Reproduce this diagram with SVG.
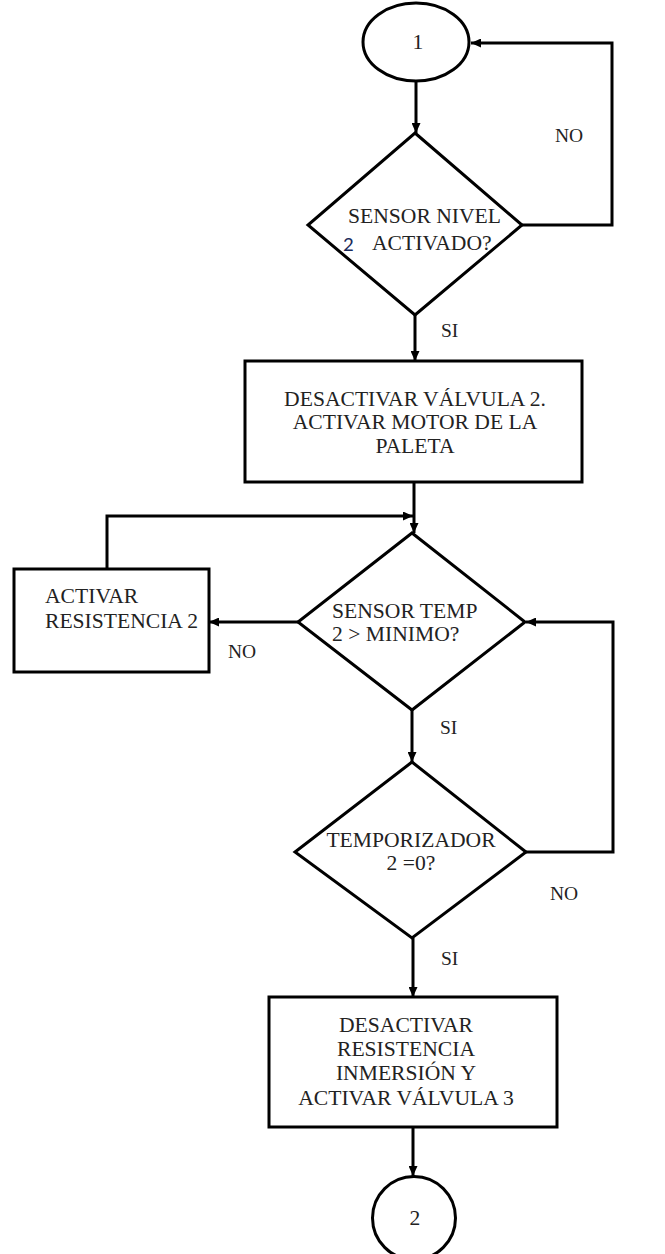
<svg xmlns="http://www.w3.org/2000/svg" width="665" height="1254" viewBox="0 0 665 1254">
  <defs>
    <style>
      .shape { fill: #fff; stroke: #000; stroke-width: 3; }
      .wire { fill: none; stroke: #000; stroke-width: 3; stroke-linejoin: miter; }
      .c { text-anchor: middle; }
    </style>
    <marker id="arrow" markerUnits="userSpaceOnUse" markerWidth="10" markerHeight="9" refX="10" refY="4.5" orient="auto">
      <path d="M0,0 L10,4.5 L0,9 z" fill="#000"/>
    </marker>
  </defs>

  <rect width="665" height="1254" fill="#fff"/>

  <g font-family="Liberation Serif, serif" fill="#222">
  <!-- connectors and branch labels -->
  <g id="connectors" font-size="19.5">
    <path class="wire" d="M416,81 L416,133" marker-end="url(#arrow)"/>
    <path class="wire" d="M522,225 L612,225 L612,43 L471,43" marker-end="url(#arrow)"/>
    <path class="wire" d="M415,315 L415,361" marker-end="url(#arrow)"/>
    <path class="wire" d="M414,482 L414,533" marker-end="url(#arrow)"/>
    <path class="wire" d="M107,569 L107,516 L413,516" marker-end="url(#arrow)"/>
    <path class="wire" d="M298,622 L209,622" marker-end="url(#arrow)"/>
    <path class="wire" d="M412,710 L412,762" marker-end="url(#arrow)"/>
    <path class="wire" d="M526,852 L613,852 L613,622 L526,622" marker-end="url(#arrow)"/>
    <path class="wire" d="M413,938 L413,997" marker-end="url(#arrow)"/>
    <path class="wire" d="M413,1127 L413,1176" marker-end="url(#arrow)"/>
    <text x="555" y="142">NO</text>
    <text x="441" y="337">SI</text>
    <text x="228" y="658">NO</text>
    <text x="440" y="734">SI</text>
    <text x="550" y="900">NO</text>
    <text x="441" y="965">SI</text>
  </g>

  <g font-size="21.6">
  <!-- start connector 1 -->
  <g id="start">
    <ellipse class="shape" cx="416" cy="42" rx="53" ry="39"/>
    <text class="c" x="418" y="49">1</text>
  </g>

  <!-- level sensor decision -->
  <g id="sensor-nivel">
    <polygon class="shape" points="415,133 522,225 415,315 308,225"/>
    <text x="348" y="223">SENSOR NIVEL</text>
    <text x="343" y="251" font-family="Carlito, Liberation Sans, sans-serif" font-size="21" fill="#1a2a5a">2</text>
    <text x="372" y="250">ACTIVADO?</text>
  </g>

  <!-- valve / paddle motor action -->
  <g id="desactivar-valvula">
    <rect class="shape" x="245" y="361" width="337" height="121"/>
    <text class="c" x="415" y="406">DESACTIVAR VÁLVULA 2.</text>
    <text class="c" x="415" y="429">ACTIVAR MOTOR DE LA</text>
    <text class="c" x="415" y="453">PALETA</text>
  </g>

  <!-- heater action -->
  <g id="activar-resistencia">
    <rect class="shape" x="14" y="569" width="195" height="103"/>
    <text x="45" y="603">ACTIVAR</text>
    <text x="45" y="628">RESISTENCIA 2</text>
  </g>

  <!-- temperature decision -->
  <g id="sensor-temp">
    <polygon class="shape" points="412,533 525,622 412,710 298,622"/>
    <text x="332" y="618">SENSOR TEMP</text>
    <text x="332" y="641">2 &gt; MINIMO?</text>
  </g>

  <!-- timer decision -->
  <g id="temporizador">
    <polygon class="shape" points="412,762 526,852 412,938 295,852"/>
    <text class="c" x="411" y="847">TEMPORIZADOR</text>
    <text class="c" x="411" y="870">2 =0?</text>
  </g>

  <!-- heater off / valve 3 action -->
  <g id="desactivar-resistencia">
    <rect class="shape" x="269" y="997" width="288" height="130"/>
    <text class="c" x="406" y="1032">DESACTIVAR</text>
    <text class="c" x="406" y="1056">RESISTENCIA</text>
    <text class="c" x="406" y="1080">INMERSIÓN Y</text>
    <text class="c" x="406" y="1105">ACTIVAR VÁLVULA 3</text>
  </g>

  <!-- end connector 2 -->
  <g id="end">
    <circle class="shape" cx="414" cy="1218" r="41.5"/>
    <text class="c" x="415" y="1225">2</text>
  </g>
  </g>
  </g>
</svg>
